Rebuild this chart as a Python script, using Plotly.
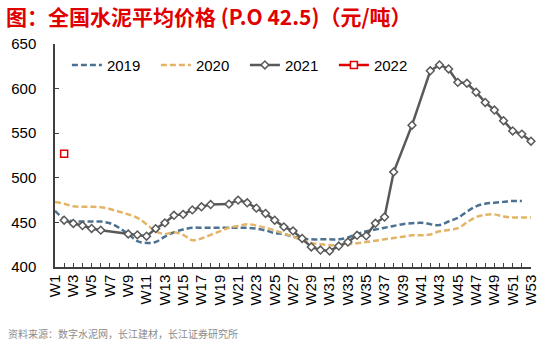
import plotly.graph_objects as go

weeks = list(range(1, 54))
week_labels = ["W1", "W2", "W3", "W4", "W5", "W6", "W7", "W8", "W9", "W10",
               "W11", "W12", "W13", "W14", "W15", "W16", "W17", "W18", "W19", "W20",
               "W21", "W22", "W23", "W24", "W25", "W26", "W27", "W28", "W29", "W30",
               "W31", "W32", "W33", "W34", "W35", "W36", "W37", "W38", "W39", "W40",
               "W41", "W42", "W43", "W44", "W45", "W46", "W47", "W48", "W49", "W50",
               "W51", "W52", "W53"]

y2019 = [463, 454, 451, 451, 451, 451, 449, 444, 437, 429,
         427, 428, 434, 439, 442, 444, 444, 444, 444, 444,
         444, 444, 443, 441, 438, 437, 434, 432, 431, 431,
         431, 431, 433, 437, 440, 442, 444, 446, 448, 449,
         449.5, 448, 447, 451, 455, 462, 468, 471, 472, 473,
         474, 474, None]

y2020 = [473, 471, 468, 467.5, 467.5, 467, 465, 462, 459, 455,
         448, 440, 437, 439, 436, 430, 432, 436, 440, 444,
         446, 448, 446.5, 444, 441, 437.5, 434, 430, 427, 425.5,
         424.5, 424.5, 425.5, 426.5, 428, 429.5, 431, 432.5, 434, 435.5,
         435.5, 436.5, 440, 441.5, 443.5, 450, 456, 458.5, 459, 456.5,
         455.5, 455.5, 455.5]

y2021 = [None, 452.5, 448.8, 446.5, 443.2, 441.3, None, None, 437, 436,
         434.5, 443, 449.5, 458, 459, 464, 467.5, 470, None, 470.5,
         475, 472, 466, 460, 452.5, 445, 440.5, 432, 422.5, 419,
         418, 423.5, 428, 435.5, 435, 449, 456, 506.5, None, 559,
         None, 620, 626.5, 622, 607, 606, 596, 584.5, 576, 564,
         552.5, 549, 541]

y2022 = [None, 527]

title_text = "图：全国水泥平均价格 (P.O 42.5)（元/吨）"
source_text = "资料来源：数字水泥网，长江建材，长江证券研究所"

fig = go.Figure()
fig.add_trace(go.Scatter(x=weeks, y=y2019, name="2019", mode="lines",
                         line=dict(color="#4D7190", width=2.5, dash="6px,3px", shape="spline")))
fig.add_trace(go.Scatter(x=weeks, y=y2020, name="2020", mode="lines",
                         line=dict(color="#E3B467", width=2.5, dash="6px,3px", shape="spline")))
fig.add_trace(go.Scatter(x=weeks, y=y2021, name="2021", mode="lines+markers",
                         line=dict(color="#595959", width=2.5),
                         marker=dict(symbol="diamond", size=6, color="white",
                                     line=dict(color="#595959", width=1.5)),
                         connectgaps=True, cliponaxis=False))
fig.add_trace(go.Scatter(x=weeks[:2], y=y2022, name="2022", mode="lines+markers",
                         line=dict(color="#E00000", width=2.5),
                         marker=dict(symbol="square", size=7, color="white",
                                     line=dict(color="#E00000", width=1.5))))

fig.update_layout(
    width=547, height=344,
    margin=dict(l=55, r=8, t=44, b=77),
    paper_bgcolor="white", plot_bgcolor="white",
    font=dict(family="Liberation Sans, Arial, sans-serif", size=15, color="black"),
    showlegend=True,
    legend=dict(orientation="h", x=0.025, xanchor="left", y=0.905, yanchor="middle",
                font=dict(size=15), bgcolor="rgba(0,0,0,0)",
                entrywidth=44, entrywidthmode="pixels", itemwidth=30),
    xaxis=dict(range=[1, 53], tickmode="array", tickvals=weeks[::2], ticktext=week_labels[::2],
               tickangle=-90, ticks="inside", ticklen=4, tickcolor="#404040",
               showline=True, linecolor="#404040", linewidth=1.5, showgrid=False,
               zeroline=False, tickfont=dict(size=15),
               minor=dict(ticks="inside", ticklen=4, dtick=1, tick0=1, tickcolor="#404040",
                          showgrid=False)),
    yaxis=dict(range=[400, 650], dtick=50, ticks="inside", ticklen=4, tickcolor="#404040",
               showline=True, linecolor="#404040", linewidth=1.5, showgrid=False,
               zeroline=False, tickfont=dict(size=15), ticklabelstandoff=14),
    annotations=[
        dict(text=title_text, xref="paper", yref="paper", x=-52/484, y=1 + (44 - 16) / 222.7,
             xanchor="left", yanchor="middle", showarrow=False,
             font=dict(family="Noto Sans CJK SC", size=21, color="#E00000", weight="bold")),
        dict(text=source_text, xref="paper", yref="paper", x=-50/484, y=-(333 - 266.7) / 222.7,
             xanchor="left", yanchor="middle", showarrow=False,
             font=dict(family="Noto Sans CJK SC", size=10, color="#8C8C8C")),
    ],
)

fig.write_html("out.html")
